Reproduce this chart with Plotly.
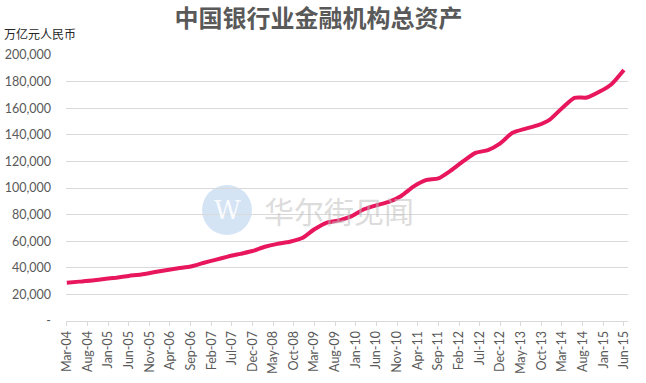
import plotly.graph_objects as go

dates = [
    "2004-03-01", "2004-06-01", "2004-09-01", "2004-12-01",
    "2005-03-01", "2005-06-01", "2005-09-01", "2005-12-01",
    "2006-03-01", "2006-06-01", "2006-09-01", "2006-12-01",
    "2007-03-01", "2007-06-01", "2007-09-01", "2007-12-01",
    "2008-03-01", "2008-06-01", "2008-09-01", "2008-12-01",
    "2009-03-01", "2009-06-01", "2009-09-01", "2009-12-01",
    "2010-03-01", "2010-06-01", "2010-09-01", "2010-12-01",
    "2011-03-01", "2011-06-01", "2011-09-01", "2011-12-01",
    "2012-03-01", "2012-06-01", "2012-09-01", "2012-12-01",
    "2013-03-01", "2013-06-01", "2013-09-01", "2013-12-01",
    "2014-03-01", "2014-06-01", "2014-09-01", "2014-12-01",
    "2015-03-01", "2015-06-01",
]
assets = [
    28800, 29600, 30400, 31600,
    32600, 33900, 35000, 36600,
    38200, 39700, 41000, 43600,
    46000, 48400, 50500, 52600,
    55800, 58000, 59600, 62400,
    69000, 74000, 75700, 78800,
    84000, 87000, 89500, 94000,
    101000, 105900, 107200, 113000,
    120000, 126400, 128500, 133600,
    141500, 144500, 147000, 151400,
    160000, 167800, 168000, 172300,
    178000, 188700,
]
y_tickvals = [0, 20000, 40000, 60000, 80000, 100000, 120000, 140000, 160000, 180000, 200000]
y_ticktext = ["-", "20,000", "40,000", "60,000", "80,000", "100,000", "120,000",
              "140,000", "160,000", "180,000", "200,000"]

title_text = "中国银行业金融机构总资产"
unit_text = "万亿元人民币"
watermark_text = "华尔街见闻"

fig = go.Figure()
fig.add_trace(go.Scatter(
    x=dates, y=assets, mode="lines",
    line=dict(color="#E8175D", width=4, shape="spline", smoothing=0.6),
    showlegend=False, hoverinfo="skip",
))

fig.update_layout(
    width=646, height=383,
    margin=dict(l=66, r=18, t=55, b=62, autoexpand=False),
    paper_bgcolor="white", plot_bgcolor="white",
    font=dict(family="Lato, 'Noto Sans CJK SC', sans-serif", color="#595959", size=12),
    title=dict(text=f"<b>{title_text}</b>", x=0.493, xanchor="center", y=0.952, yanchor="middle",
               font=dict(family="'Noto Sans CJK SC', sans-serif", size=24, color="#595959")),
    xaxis=dict(
        type="date",
        range=["2004-02-24", "2015-07-01"],
        tick0="2004-03-01", dtick="M5", tickformat="%b-%y",
        tickangle=-90, automargin=False,
        showgrid=False, showline=True, linecolor="#D9D9D9", linewidth=1,
        ticks="outside", ticklen=4, tickcolor="#D9D9D9",
        tickfont=dict(family="Lato, sans-serif", size=12.5, color="#595959"),
        fixedrange=True,
    ),
    yaxis=dict(
        range=[0, 200000], automargin=False,
        tickvals=y_tickvals, ticktext=y_ticktext,
        showgrid=True, gridcolor="#D9D9D9", gridwidth=1,
        zeroline=False, showline=False, ticks="",
        ticklabelstandoff=14,
        tickfont=dict(family="Lato, sans-serif", size=12.5, color="#595959"),
        fixedrange=True,
    ),
)

fig.add_annotation(text=unit_text, xref="paper", yref="paper", x=-64/562, y=1 + 22/266,
                   xanchor="left", yanchor="middle", showarrow=False,
                   font=dict(family="'Noto Sans CJK SC', sans-serif", size=12, color="#262626"))

# watermark
fig.add_shape(type="circle", xref="paper", yref="paper",
              x0=(202 - 66) / 562, x1=(252 - 66) / 562,
              y0=(321 - 235) / 266, y1=(321 - 185) / 266,
              fillcolor="rgba(160,195,230,0.45)", line=dict(width=0), layer="below")
fig.add_annotation(text="W", xref="paper", yref="paper", x=(227 - 66) / 562, y=(321 - 210) / 266,
                   showarrow=False, xanchor="center", yanchor="middle",
                   font=dict(family="DejaVu Serif", size=26, color="rgba(255,255,255,0.9)"))
fig.add_annotation(text=watermark_text, xref="paper", yref="paper", x=(262 - 66) / 562, y=(321 - 210) / 266,
                   showarrow=False, xanchor="left", yanchor="middle",
                   font=dict(family="'Noto Sans CJK SC', serif", size=30, color="rgba(190,190,190,0.55)"))

fig.write_html("out.html")
